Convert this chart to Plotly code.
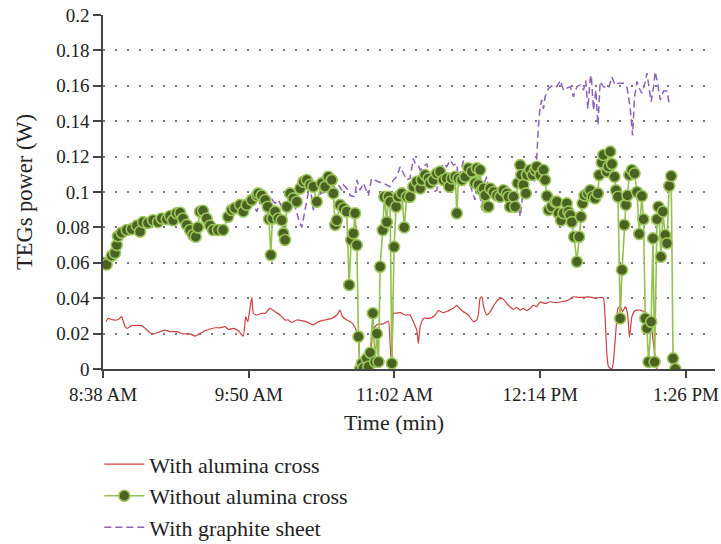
import datetime as dt
import plotly.graph_objects as go

# Elapsed minutes after the 8:38 AM start, and TEG power in watts
alumina_min = [1.5, 2.6, 5.1, 7.6, 9.2, 10.9, 12.0, 14.2, 19.1, 20.8, 23.2, 24.9, 28.2, 30.6, 33.1,
               36.4, 39.7, 43.0, 45.5, 47.9, 50.4, 52.9, 55.4, 57.8, 60.3, 61.9, 64.4, 66.9, 69.3,
               70.5, 71.5, 72.6, 73.5, 74.3, 76.0, 78.4, 80.1, 82.5, 85.0, 87.5, 89.9, 91.6, 93.3,
               95.7, 98.2, 101.5, 103.9, 106.4, 109.7, 113.0, 115.5, 117.1, 118.3, 120.4, 122.9,
               124.5, 126.2, 127.0, 128.0, 128.9, 131.5, 133.4, 135.3, 138.4, 141.0, 141.8, 142.7,
               143.5, 144.3, 146.8, 149.3, 151.7, 153.3, 155.0, 155.8, 156.7, 158.3, 161.6, 164.1,
               165.7, 168.2, 170.7, 173.1, 174.8, 176.1, 178.1, 180.5, 183.0, 184.7, 185.5, 186.3,
               187.2, 188.0, 189.6, 191.3, 193.7, 196.2, 197.8, 199.5, 201.1, 202.8, 204.4, 206.1,
               207.7, 209.4, 211.0, 212.6, 214.3, 216.0, 218.4, 220.9, 223.4, 226.7, 230.0, 232.4,
               234.9, 237.4, 239.9, 241.5, 243.1, 245.6, 247.2, 248.1, 248.9, 249.7, 251.4, 252.2,
               253.4, 254.4, 255.5, 256.7, 258.0, 259.1, 260.1, 261.3, 262.9, 265.4, 267.9, 269.5,
               271.1, 272.5, 273.7]
alumina_w = [0.0267, 0.0286, 0.0277, 0.028, 0.0296, 0.0239, 0.023, 0.0245, 0.0245, 0.023, 0.0205,
             0.0198, 0.0211, 0.022, 0.0211, 0.0211, 0.0198, 0.0198, 0.0186, 0.020, 0.0216, 0.0226,
             0.0233, 0.0233, 0.0239, 0.0224, 0.023, 0.0216, 0.0186, 0.0296, 0.0267, 0.0343, 0.0405,
             0.0315, 0.0305, 0.0315, 0.0315, 0.0343, 0.0324, 0.0305, 0.0277, 0.0277, 0.0262, 0.0277,
             0.0273, 0.0262, 0.0249, 0.0267, 0.0277, 0.0286, 0.0305, 0.0333, 0.0296, 0.0277, 0.0262,
             0.0235, 0.018, 0.001, 0.0, 0.0, 0.001, 0.022, 0.025, 0.0255, 0.027, 0.015, 0.0,
             0.0315, 0.0315, 0.0318, 0.0305, 0.0305, 0.0267, 0.022, 0.0145, 0.0239, 0.0286, 0.0286,
             0.0305, 0.033, 0.0318, 0.033, 0.0343, 0.036, 0.0343, 0.0324, 0.0305, 0.0267, 0.0277,
             0.0315, 0.040, 0.0408, 0.0352, 0.0305, 0.0324, 0.037, 0.040, 0.0394, 0.037, 0.0352,
             0.0337, 0.0348, 0.0333, 0.0343, 0.033, 0.0343, 0.036, 0.0352, 0.038, 0.037, 0.038,
             0.0375, 0.038, 0.039, 0.0408, 0.0405, 0.0405, 0.0408, 0.0405, 0.040, 0.0405, 0.040,
             0.0277, 0.0089, 0.0013, 0.0, 0.005, 0.022, 0.0343, 0.0352, 0.0324, 0.0352, 0.0315,
             0.018, 0.0296, 0.033, 0.0333, 0.0318, 0.0296, 0.022, 0.0089, 0.0]

no_alumina_min = [0.1, 1.8, 4.3, 5.9, 6.8, 7.4, 9.2, 11.7, 14.2, 16.7, 18.3, 19.8, 22.2, 24.7, 27.2,
                  29.0, 31.5, 33.1, 34.6, 36.4, 38.1, 39.5, 41.4, 43.0, 44.5, 45.8, 46.9, 47.9, 49.4,
                  51.2, 52.9, 54.4, 56.8, 59.3, 61.8, 63.6, 65.2, 67.7, 69.3, 71.0, 73.5, 76.0, 76.7,
                  78.4, 80.1, 81.4, 82.0, 82.9, 83.7, 85.0, 86.6, 88.3, 89.1, 89.9, 90.8, 92.4, 94.0,
                  95.7, 97.4, 99.0, 100.7, 102.3, 103.9, 105.6, 108.1, 109.7, 111.3, 113.0, 113.8,
                  114.7, 115.5, 117.1, 118.8, 120.4, 121.6, 122.6, 123.7, 124.5, 125.4, 126.2, 127.0,
                  127.9, 128.6, 130.3, 131.1, 132.0, 133.3, 134.4, 135.3, 136.1, 136.9, 138.2, 139.0,
                  140.2, 141.0, 141.8, 142.7, 143.8, 144.8, 145.9, 147.6, 148.8, 150.1, 151.7, 153.3,
                  155.0, 156.7, 157.5, 159.1, 160.8, 161.6, 163.2, 164.9, 166.5, 168.2, 169.8, 171.1,
                  172.3, 174.0, 174.8, 175.6, 177.3, 178.9, 180.5, 182.2, 183.8, 184.7, 185.5, 186.3,
                  187.2, 188.0, 188.8, 189.6, 190.4, 191.3, 192.9, 194.6, 196.2, 197.8, 199.5, 200.3,
                  201.1, 202.8, 203.6, 204.9, 206.1, 206.6, 207.7, 208.9, 209.4, 211.0, 212.2, 213.5,
                  214.3, 216.0, 217.6, 218.4, 219.3, 220.1, 221.7, 223.4, 224.2, 225.0, 226.3, 227.5,
                  229.1, 229.9, 230.8, 231.6, 232.7, 234.1, 235.2, 236.1, 236.9, 237.9, 239.5, 240.7,
                  241.8, 243.1, 244.5, 245.1, 246.4, 247.2, 248.9, 249.7, 250.6, 251.4, 252.7, 253.4,
                  254.4, 255.5, 256.4, 257.5, 258.3, 259.1, 260.0, 261.3, 262.6, 263.8, 264.9, 266.2,
                  267.0, 267.9, 268.7, 269.5, 270.8, 271.7, 272.5, 273.7, 274.4, 275.6, 276.6, 277.7,
                  278.6, 279.7, 280.7, 281.6, 282.7]
no_alumina_w = [0.060, 0.059, 0.064, 0.0655, 0.070, 0.075, 0.077, 0.0785, 0.079, 0.081, 0.0776, 0.083,
                0.0825, 0.084, 0.083, 0.085, 0.0847, 0.0864, 0.084, 0.088, 0.0883, 0.085, 0.0814,
                0.0785, 0.0757, 0.0747, 0.080, 0.0889, 0.0894, 0.085, 0.081, 0.0785, 0.0785, 0.0785,
                0.086, 0.0898, 0.091, 0.0927, 0.0889, 0.0927, 0.0955, 0.098, 0.0992, 0.098, 0.0955,
                0.0917, 0.0847, 0.0644, 0.085, 0.0889, 0.085, 0.084, 0.0766, 0.0729, 0.0917, 0.0992,
                0.0964, 0.0945, 0.102, 0.1058, 0.1068, 0.104, 0.103, 0.0945, 0.105, 0.103, 0.1086,
                0.1068, 0.0992, 0.0814, 0.084, 0.0927, 0.0908, 0.0889, 0.0475, 0.0729, 0.0766, 0.088,
                0.070, 0.0183, 0.0, 0.0032, 0.0004, 0.006, 0.0013, 0.0092, 0.0315, 0.004, 0.020,
                0.004, 0.0578, 0.0785, 0.0973, 0.083, 0.0973, 0.0945, 0.0032, 0.069, 0.0917, 0.0973,
                0.0992, 0.080, 0.0973, 0.0973, 0.103, 0.1058, 0.102, 0.1068, 0.1096, 0.1077, 0.105,
                0.1068, 0.1105, 0.1115, 0.1068, 0.1077, 0.103, 0.1077, 0.1086, 0.088, 0.1077, 0.1068,
                0.1086, 0.1134, 0.1115, 0.105, 0.1134, 0.104, 0.1124, 0.101, 0.102, 0.098, 0.0917,
                0.0917, 0.102, 0.100, 0.098, 0.0973, 0.101, 0.0992, 0.0973, 0.0917, 0.0973, 0.0917,
                0.105, 0.1152, 0.1096, 0.104, 0.0992, 0.1096, 0.1124, 0.1096, 0.1124, 0.1143, 0.1096,
                0.1124, 0.1068, 0.0977, 0.0898, 0.0917, 0.0945, 0.0945, 0.088, 0.084, 0.088, 0.0936,
                0.0889, 0.087, 0.083, 0.0747, 0.0606, 0.0747, 0.086, 0.0936, 0.098, 0.0992, 0.101,
                0.0973, 0.0964, 0.0992, 0.1096, 0.1166, 0.1209, 0.1115, 0.1143, 0.1228, 0.1158,
                0.1086, 0.101, 0.0973, 0.0286, 0.056, 0.0814, 0.0927, 0.098, 0.1096, 0.1124, 0.1105,
                0.100, 0.0763, 0.0977, 0.0846, 0.0286, 0.023, 0.004, 0.0267, 0.0738, 0.004, 0.0846,
                0.0917, 0.0634, 0.0889, 0.0757, 0.071, 0.1034, 0.109, 0.006, 0.0]

graphite_min = [68.5, 69.3, 71.8, 74.3, 76.0, 77.6, 79.2, 80.4, 81.7, 83.4, 85.0, 86.6, 88.3, 89.9,
                91.6, 93.3, 94.9, 96.5, 98.2, 99.8, 101.5, 102.8, 103.9, 105.6, 108.1, 110.6, 112.7,
                113.8, 114.7, 116.3, 117.9, 118.8, 121.2, 122.1, 124.5, 125.4, 127.0, 128.6, 131.1,
                132.7, 134.4, 136.0, 138.5, 141.8, 143.5, 145.1, 146.8, 148.4, 150.1, 151.7, 153.3,
                154.2, 155.8, 156.7, 158.3, 160.0, 161.6, 163.2, 164.9, 166.5, 168.2, 169.8, 171.5,
                173.1, 174.8, 175.6, 178.1, 179.7, 182.2, 183.8, 185.5, 187.2, 188.0, 189.6, 190.4,
                192.1, 193.7, 195.4, 197.0, 198.7, 200.3, 201.9, 203.6, 205.2, 206.1, 206.9, 207.7,
                209.4, 210.5, 211.8, 213.1, 214.3, 215.1, 215.9, 216.8, 217.6, 218.4, 220.1, 222.6,
                224.2, 225.9, 227.5, 229.1, 230.8, 232.4, 234.1, 235.7, 237.4, 238.5, 239.5, 240.7,
                241.2, 242.3, 243.5, 244.5, 245.6, 247.2, 249.7, 251.4, 253.0, 254.7, 257.1, 258.8,
                259.6, 260.4, 261.6, 262.6, 263.8, 264.9, 266.2, 267.5, 268.7, 269.8, 270.8, 272.0,
                272.8, 274.1, 275.3, 276.9, 278.6, 279.7]
graphite_w = [0.088, 0.0908, 0.0936, 0.0927, 0.0889, 0.0945, 0.0973, 0.0955, 0.0936, 0.0959, 0.0936,
              0.0955, 0.0917, 0.0898, 0.0889, 0.0927, 0.0917, 0.085, 0.080, 0.0898, 0.100, 0.0992,
              0.0898, 0.0973, 0.0995, 0.100, 0.104, 0.105, 0.101, 0.104, 0.101, 0.104, 0.101, 0.098,
              0.0973, 0.1068, 0.101, 0.105, 0.098, 0.1077, 0.1068, 0.1058, 0.105, 0.103, 0.1068,
              0.1086, 0.1143, 0.1105, 0.1068, 0.1077, 0.119, 0.116, 0.1152, 0.1124, 0.1143, 0.116,
              0.1068, 0.100, 0.101, 0.1124, 0.116, 0.1143, 0.118, 0.1152, 0.116, 0.105, 0.118,
              0.1086, 0.101, 0.0955, 0.105, 0.0898, 0.104, 0.1086, 0.102, 0.104, 0.103, 0.100,
              0.0992, 0.101, 0.098, 0.0973, 0.0955, 0.0936, 0.086, 0.0936, 0.105, 0.1096, 0.1077,
              0.1096, 0.1058, 0.120, 0.137, 0.148, 0.152, 0.147, 0.1538, 0.1586, 0.1605, 0.1595,
              0.163, 0.1576, 0.1586, 0.1595, 0.1538, 0.1595, 0.1605, 0.1576, 0.163, 0.147, 0.164,
              0.166, 0.1463, 0.1576, 0.1378, 0.1624, 0.1595, 0.1586, 0.165, 0.1605, 0.1614, 0.1614,
              0.1595, 0.1538, 0.148, 0.132, 0.1538, 0.1624, 0.1586, 0.1558, 0.1605, 0.1672, 0.1576,
              0.151, 0.1595, 0.168, 0.1605, 0.152, 0.157, 0.157, 0.150]

tick_labels_at = ["08:38", "09:50", "11:02", "12:14", "13:26"]

DAY = dt.datetime(2019, 6, 1)
START = DAY + dt.timedelta(hours=8, minutes=38)


def to_time(minutes):
    return [START + dt.timedelta(minutes=m) for m in minutes]


def clock(hhmm):
    h, m = map(int, hhmm.split(":"))
    return DAY + dt.timedelta(hours=h, minutes=m)


FONT = "Liberation Serif"
AXIS_COLOR = "#444444"
TEXT_COLOR = "#222222"

fig = go.Figure()

fig.add_trace(go.Scatter(
    x=to_time(graphite_min), y=graphite_w, mode="lines", name="With graphite sheet",
    line=dict(color="#8a62b8", width=1.5, dash="7px,4px"),
    legendrank=3, legendgroup="g3",
))
fig.add_trace(go.Scatter(
    x=to_time(alumina_min), y=alumina_w, mode="lines", name="With alumina cross",
    line=dict(color="#cc3f3f", width=1.2, shape="spline", smoothing=0.5),
    legendrank=1, legendgroup="g1",
))
fig.add_trace(go.Scatter(
    x=to_time(no_alumina_min), y=no_alumina_w, mode="lines+markers", name="Without alumina cross",
    line=dict(color="#93c050", width=1.6),
    marker=dict(size=11, color="#4a6222", line=dict(color="#9cc75c", width=1.6)),
    legendrank=2, legendgroup="g2",
))

tickvals = [clock(t) for t in tick_labels_at]

# The time-axis title sits centred under the labelled span (8:38 AM to 1:26 PM)
x_lo = clock("08:38")
x_hi = clock("13:40") + dt.timedelta(seconds=20)
label_mid = (tickvals[0] - x_lo + (tickvals[-1] - tickvals[0]) / 2) / (x_hi - x_lo)

fig.update_layout(
    width=721, height=544,
    margin=dict(l=103, r=6, t=15, b=175, autoexpand=False),
    paper_bgcolor="white", plot_bgcolor="white",
    font=dict(family=FONT, size=19, color=TEXT_COLOR),
    showlegend=True,
    legend=dict(
        x=-0.006, xanchor="left", y=-0.21, yanchor="top",
        font=dict(family=FONT, size=22, color=TEXT_COLOR),
        itemwidth=40, tracegroupgap=0, bgcolor="rgba(0,0,0,0)",
    ),
    xaxis=dict(
        type="date", range=[x_lo, x_hi],
        tickvals=tickvals, tickformat="%-I:%M %p",
        showgrid=False, zeroline=False,
        showline=True, linecolor=AXIS_COLOR, linewidth=1.5,
        ticks="outside", ticklen=7, tickwidth=1.5, tickcolor=AXIS_COLOR,
    ),
    yaxis=dict(
        range=[0, 0.2], dtick=0.02, tick0=0,
        showgrid=True, gridcolor="#777777", gridwidth=1.5, griddash="2px,10px",
        zeroline=False,
        showline=True, linecolor=AXIS_COLOR, linewidth=1.5,
        ticks="outside", ticklen=8, tickwidth=1.5, tickcolor=AXIS_COLOR,
        title=dict(text="TEGs power (W)", font=dict(size=22.5), standoff=17),
    ),
    annotations=[dict(
        text="Time (min)", xref="paper", yref="paper", x=label_mid, y=-0.1525,
        xanchor="center", yanchor="middle", showarrow=False,
        font=dict(family=FONT, size=22, color=TEXT_COLOR),
    )],
)

fig.write_html("out.html")
